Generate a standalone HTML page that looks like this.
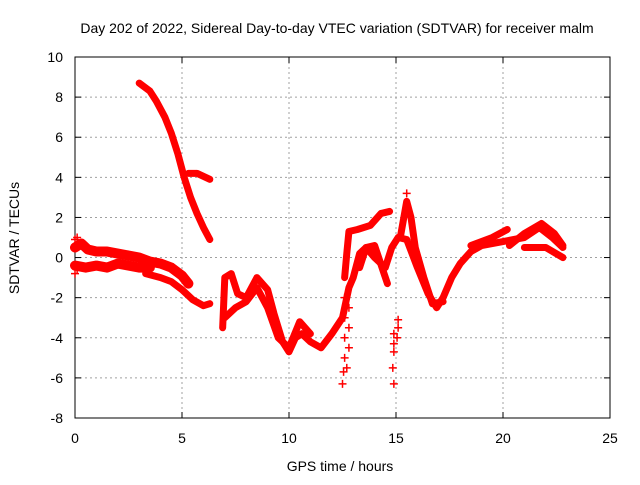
<!DOCTYPE html>
<html><head><meta charset="utf-8"><style>
body{margin:0;background:#fff}
svg text{font-family:"Liberation Sans",sans-serif;font-size:14px;fill:#000}
</style></head><body>
<svg id="chart" width="640" height="480" viewBox="0 0 640 480" xmlns="http://www.w3.org/2000/svg">
<text x="337" y="33" text-anchor="middle">Day 202 of 2022, Sidereal Day-to-day VTEC variation (SDTVAR) for receiver malm</text>
<g id="grid"></g>
<g id="axes"></g>
<g id="series"></g>
<text x="340" y="471" text-anchor="middle">GPS time / hours</text>
<text transform="translate(19,238) rotate(-90)" text-anchor="middle">SDTVAR / TECUs</text>
</svg>
<script>
const xTicks=[0,5,10,15,20,25];
const yTicks=[-8,-6,-4,-2,0,2,4,6,8,10];
const trackA=[[3.0,8.7],[3.5,8.3],[3.8,7.8],[4.2,7.0],[4.5,6.2],[4.8,5.2],[5.1,4.0],[5.4,3.0],[5.7,2.2],[6.0,1.5],[6.3,0.9]];
const trackB=[[5.3,4.2],[5.7,4.2],[6.3,3.9]];
const trackC=[[0,0.5],[0.3,0.7],[0.6,0.4],[1,0.3],[1.5,0.3],[2,0.2],[2.5,0.1],[3,0],[3.5,-0.2],[4,-0.3],[4.5,-0.5],[5,-0.9],[5.3,-1.3]];
const trackC2=[[0,-0.4],[0.5,-0.5],[1,-0.4],[1.5,-0.5],[2,-0.3],[2.5,-0.4],[3,-0.5],[3.5,-0.5]];
const trackD=[[3.3,-0.8],[4,-1.0],[4.5,-1.2],[5,-1.6],[5.5,-2.1],[6,-2.4],[6.3,-2.3]];
const trackE=[[6.9,-3.5],[7.0,-1.0],[7.3,-0.8],[7.6,-1.8],[8,-2.0],[8.5,-1.0],[9,-1.6],[9.3,-2.8],[9.7,-4.2],[10,-4.7],[10.3,-4.0],[10.6,-3.8],[11,-4.2],[11.5,-4.5],[12,-3.8],[12.5,-3.0],[12.8,-1.5],[13,-1.0],[13.3,0.2],[13.6,0.5],[14,0],[14.5,-0.5],[14.8,0.5],[15.1,1.0],[15.5,0.9],[16,-0.5],[16.5,-1.8],[16.9,-2.5],[17.2,-2.0],[17.6,-1.0],[18,-0.3],[18.5,0.3],[19,0.6],[20,0.8],[21,1.0],[21.7,1.5],[22.3,1.0],[22.8,0.5]];
const trackE2=[[7,-3],[7.5,-2.5],[8,-2.2],[8.5,-1.5],[9,-2.5],[9.5,-4],[10,-4.5],[10.5,-3.2],[11,-3.8]];
const trackF=[[12.6,-1.0],[12.7,0.2],[12.8,1.3],[13.2,1.4],[13.8,1.6],[14.3,2.2],[14.7,2.3]];
const trackG=[[13.3,-0.5],[13.6,0.5],[14,0.6],[14.6,-1.3]];
const trackG2=[[15.2,1.0],[15.5,2.8],[15.7,2.0],[15.9,0.5],[16.3,-1.0],[16.7,-2.3],[17.2,-2.2]];
const trackH=[[18.5,0.6],[19.5,1.0],[20.2,1.4]];
const trackI=[[20.3,0.6],[21,1.2],[21.8,1.7],[22.4,1.2],[22.8,0.6]];
const trackJ=[[21,0.5],[22,0.5],[22.8,0.0]];
const scatter=[[12.6,-2],[12.6,-3],[12.6,-4],[12.6,-5],[12.55,-5.7],[12.5,-6.3],[12.8,-2.5],[12.8,-3.5],[12.8,-4.5],[12.7,-5.5],[14.9,-3.8],[14.9,-4.3],[14.9,-4.7],[14.85,-5.5],[14.9,-6.3],[15.1,-3.1],[15.1,-3.5],[15.05,-4.0],[15.5,3.2],[0,0.9],[0,-0.8],[0.1,1.0],[0.1,-0.6]];
const tracks=[trackA,trackB,trackC,trackC2,trackD,trackE,trackE2,trackF,trackG,trackG2,trackH,trackI,trackJ];
const X0=75,X1=610,Y0=418,Y1=57;
const sx=t=>X0+(t-0)/25*(X1-X0);
const sy=v=>Y0-(v+8)/18*(Y0-Y1);
const NS="http://www.w3.org/2000/svg";
function mk(tag,attrs,parent){const e=document.createElementNS(NS,tag);for(const k in attrs)e.setAttribute(k,attrs[k]);parent.appendChild(e);return e;}
const grid=document.getElementById('grid'),axes=document.getElementById('axes'),series=document.getElementById('series');
xTicks.forEach(t=>{
 if(t>0&&t<25){const l=mk('line',{x1:sx(t),x2:sx(t),y1:Y1,y2:Y0,stroke:'#a0a0a0','stroke-dasharray':'2,3'},grid);
 }
 mk('line',{x1:sx(t),x2:sx(t),y1:Y0,y2:Y0-6,stroke:'#000'},axes);
 mk('line',{x1:sx(t),x2:sx(t),y1:Y1,y2:Y1+6,stroke:'#000'},axes);
 const tx=mk('text',{x:sx(t),y:Y0+25,'text-anchor':'middle'},axes);tx.textContent=t;
 
});
yTicks.forEach(v=>{
 if(v>-8&&v<10){const l=mk('line',{x1:X0,x2:X1,y1:sy(v),y2:sy(v),stroke:'#a0a0a0','stroke-dasharray':'2,3'},grid);
 }
 mk('line',{x1:X0,x2:X0+6,y1:sy(v),y2:sy(v),stroke:'#000'},axes);
 mk('line',{x1:X1,x2:X1-6,y1:sy(v),y2:sy(v),stroke:'#000'},axes);
 const tx=mk('text',{x:X0-12,y:sy(v)+5,'text-anchor':'end'},axes);tx.textContent=v;
 
});
const fr=mk('rect',{x:X0,y:Y1,width:X1-X0,height:Y0-Y1,fill:'none',stroke:'#000'},axes);

tracks.forEach((tr,i)=>{
 const w=(i===2||i===3)?10:7;
 const p=mk('polyline',{points:tr.map(d=>sx(d[0])+','+sy(d[1])).join(' '),fill:'none',stroke:'#f00','stroke-width':w,'stroke-linejoin':'round','stroke-linecap':'round'},series);
 
});
scatter.forEach(d=>{
 const x=sx(d[0]),y=sy(d[1]);
 const p=mk('path',{d:`M${x-4},${y}H${x+4}M${x},${y-4}V${y+4}`,stroke:'#f00','stroke-width':1.5},series);
 
});
</script>
</body></html>
